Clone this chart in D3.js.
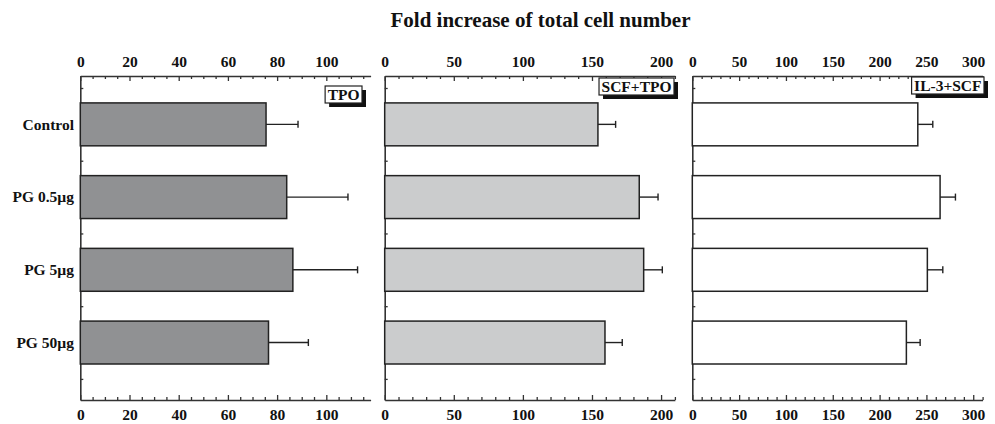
<!DOCTYPE html>
<html><head><meta charset="utf-8">
<script src="https://cdn.jsdelivr.net/npm/d3@7"></script>
<style>body{margin:0;background:#fff}svg{display:block}</style>
</head><body><svg id="chart" width="995" height="424"></svg>
<script>
// ---- data ----
const categories = ["Control", "PG 0.5µg", "PG 5µg", "PG 50µg"];
const panelNames = ["TPO", "SCF+TPO", "IL-3+SCF"];
const tpoValues = [75.5, 83.9, 86.4, 76.5];
const tpoErrors = [13.0, 24.9, 26.3, 16.2];
const scfTpoValues = [154.3, 184.2, 187.4, 159.4];
const scfTpoErrors = [12.8, 13.6, 13.5, 12.5];
const il3ScfValues = [240.8, 264.6, 251.0, 228.6];
const il3ScfErrors = [16.0, 16.4, 16.5, 14.7];
const tpoTicks = [0, 20, 40, 60, 80, 100];
const scfTpoTicks = [0, 50, 100, 150, 200];
const il3ScfTicks = [0, 50, 100, 150, 200, 250, 300];
const axisMax = [118, 210, 310];
const minorStep = [5, 10, 10];
const chartTitle = "Fold increase of total cell number";

// ---- layout ----
const W = 995, H = 424;
const plotTop = 76, plotBottom = 400;
const panelX0 = [80.3, 384.7, 692.3];
const panelX1 = [370.6, 674.9, 982.6];
const fills = ["#909193", "#cbcccd", "#ffffff"];
const boxRight = [362, 674, 984];
const boxTop = [86, 78, 77];
const axisColor = "#333";
const font = "'Liberation Serif','Times New Roman',serif";

const panels = [
  {name: panelNames[0], values: tpoValues, errors: tpoErrors, ticks: tpoTicks},
  {name: panelNames[1], values: scfTpoValues, errors: scfTpoErrors, ticks: scfTpoTicks},
  {name: panelNames[2], values: il3ScfValues, errors: il3ScfErrors, ticks: il3ScfTicks}
];

const svg = d3.select("#chart");
svg.append("rect").attr("width", W).attr("height", H).attr("fill", "#fff");

svg.append("text")
  .attr("x", 540.5).attr("y", 26.7)
  .attr("text-anchor", "middle")
  .attr("font-family", font).attr("font-weight", "bold").attr("font-size", 21)
  .attr("fill", "#111")
  .text(chartTitle);

// category slot scale (categories sit on odd slots)
const y = d3.scaleLinear().domain([-0.33, 8.58]).range([plotTop, plotBottom]);
const slotTicks = d3.range(0, 9);
const catPos = categories.map((c, i) => 2 * i + 1);
const halfBar = 0.59;

// category labels
svg.append("g").selectAll("text").data(categories).join("text")
  .attr("x", 74).attr("y", (d, i) => y(catPos[i]))
  .attr("dy", "0.34em")
  .attr("text-anchor", "end")
  .attr("font-family", font).attr("font-weight", "bold").attr("font-size", 15.5)
  .attr("fill", "#111")
  .text(d => d);

function styleAxis(g) {
  g.selectAll("path.domain").attr("stroke", axisColor).attr("stroke-width", 1.6);
  g.selectAll(".tick line").attr("stroke", axisColor).attr("stroke-width", 1.3);
  g.selectAll(".tick text").attr("font-family", font).attr("font-weight", "bold")
    .attr("font-size", 15.5).attr("fill", "#111");
}

panels.forEach((p, k) => {
  const x = d3.scaleLinear().domain([0, axisMax[k]]).range([panelX0[k], panelX1[k]]);
  const g = svg.append("g");
  const minor = d3.range(0, axisMax[k] + 0.001, minorStep[k]).filter(v => !p.ticks.includes(v));

  // minor ticks
  g.append("g").attr("transform", `translate(0,${plotTop})`)
    .call(d3.axisTop(x).tickValues(minor).tickFormat("").tickSizeInner(-3).tickSizeOuter(0))
    .call(styleAxis).call(a => a.select(".domain").remove());
  g.append("g").attr("transform", `translate(0,${plotBottom})`)
    .call(d3.axisBottom(x).tickValues(minor).tickFormat("").tickSizeInner(-3).tickSizeOuter(0))
    .call(styleAxis).call(a => a.select(".domain").remove());
  // major ticks + labels
  g.append("g").attr("transform", `translate(0,${plotTop})`)
    .call(d3.axisTop(x).tickValues(p.ticks).tickFormat(d3.format("d")).tickSizeInner(-5).tickSizeOuter(0).tickPadding(9))
    .call(styleAxis);
  g.append("g").attr("transform", `translate(0,${plotBottom})`)
    .call(d3.axisBottom(x).tickValues(p.ticks).tickFormat(d3.format("d")).tickSizeInner(-5).tickSizeOuter(0).tickPadding(9))
    .call(styleAxis);
  // left axis
  g.append("g").attr("transform", `translate(${panelX0[k]},0)`)
    .call(d3.axisLeft(y).tickValues(slotTicks).tickFormat("").tickSizeInner(-3).tickSizeOuter(0))
    .call(styleAxis);

  // bars
  g.append("g").selectAll("rect").data(p.values).join("rect")
    .attr("x", x(0))
    .attr("y", (d, i) => y(catPos[i] - halfBar))
    .attr("width", d => x(d) - x(0))
    .attr("height", (d, i) => y(catPos[i] + halfBar) - y(catPos[i] - halfBar))
    .attr("fill", fills[k]).attr("stroke", "#222").attr("stroke-width", 1.5);

  // error bars
  const eb = g.append("g").attr("stroke", "#222").attr("stroke-width", 1.4);
  eb.selectAll("line.h").data(p.values).join("line").attr("class", "h")
    .attr("x1", d => x(d)).attr("x2", (d, i) => x(d + p.errors[i]))
    .attr("y1", (d, i) => y(catPos[i])).attr("y2", (d, i) => y(catPos[i]));
  eb.selectAll("line.c").data(p.values).join("line").attr("class", "c")
    .attr("x1", (d, i) => x(d + p.errors[i])).attr("x2", (d, i) => x(d + p.errors[i]))
    .attr("y1", (d, i) => y(catPos[i]) - 3.5).attr("y2", (d, i) => y(catPos[i]) + 3.5);

  // label box with shadow
  const lb = g.append("g");
  const txt = lb.append("text")
    .attr("x", boxRight[k] - 2.5).attr("y", boxTop[k] + 14)
    .attr("text-anchor", "end")
    .attr("font-family", font).attr("font-weight", "bold").attr("font-size", 15.5)
    .attr("fill", "#111").text(p.name);
  const bb = txt.node().getBBox();
  const bx = bb.x - 2.5, bw = boxRight[k] - bx, by = boxTop[k], bh = 17;
  lb.insert("rect", "text").attr("x", bx + 4).attr("y", by + 4).attr("width", bw).attr("height", bh).attr("fill", "#111");
  lb.insert("rect", "text").attr("x", bx).attr("y", by).attr("width", bw).attr("height", bh)
    .attr("fill", "#fff").attr("stroke", "#222").attr("stroke-width", 1.2);
});
</script>
</body></html>
